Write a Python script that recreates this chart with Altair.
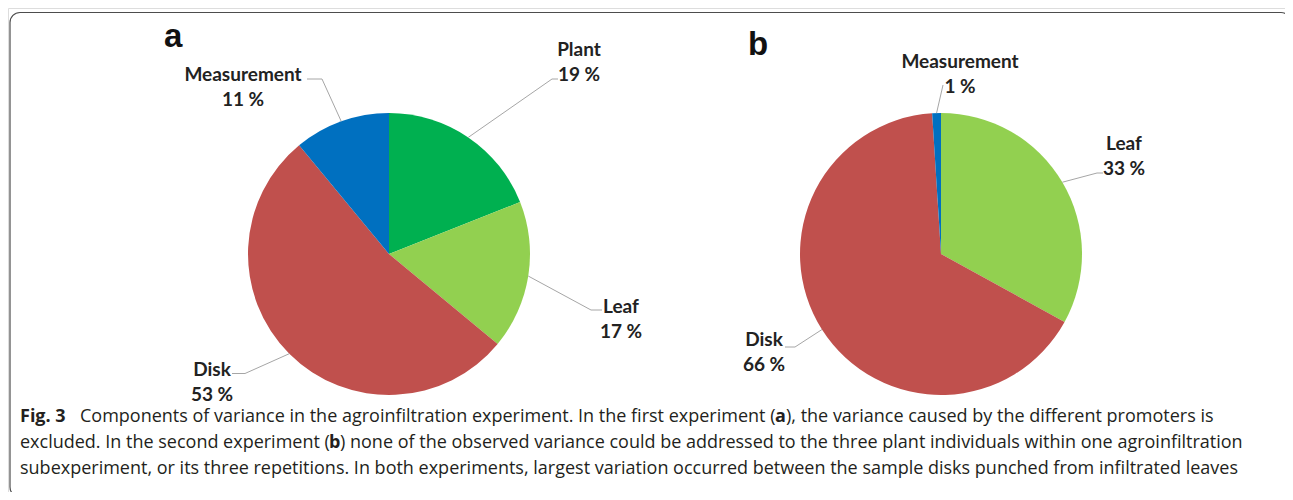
import math
import altair as alt
import pandas as pd

# ---------------- data ----------------
CATEGORIES = ["Plant", "Leaf", "Disk", "Measurement"]
SHARE_A = [19, 17, 53, 11]
SHARE_B = [0, 33, 66, 1]
COLORS = ["#00B050", "#92D050", "#C0504D", "#0070C0"]

CAPTION_BOLD = ["Fig. 3", "a", "b"]
CAPTION_REGULAR = [
    "Components of variance in the agroinfiltration experiment. In the first experiment (",
    "), the variance caused by the different promoters is",
    "excluded. In the second experiment (",
    ") none of the observed variance could be addressed to the three plant individuals within one agroinfiltration",
    "subexperiment, or its three repetitions. In both experiments, largest variation occurred between the sample disks punched from infiltrated leaves",
]

# ---------------- layout (page pixels) ----------------
M = 8  # page margin
W, H = 1277, 484
R = 141
PIE_CENTER = {"a": (389, 254), "b": (941, 254)}
PANEL_LETTER_POS = {"a": (164, 47), "b": (748, 55)}
# label block centre offset from pie centre, attach point offset from label centre, tick length
LABEL_LAYOUT = {
    ("a", "Plant"): (190, -191.5, -21, 16.5, -6),
    ("a", "Leaf"): (232, 65.5, -19, -9.5, -11),
    ("a", "Disk"): (-177, 128, 20, -8.5, 13),
    ("a", "Measurement"): (-146, -166.5, 64, -8.5, 15),
    ("b", "Leaf"): (183, -98, -21, 17, -6),
    ("b", "Disk"): (-177, 98, 21, -5, 10),
    ("b", "Measurement"): (19, -179.5, -17, 10.5, 0),
}
LINE_GAP = 12.5
CAP_SIZE = 18
CAPTION_BOLD_POS = [(20, 417), (775, 417), (329, 443)]
CAPTION_REGULAR_POS = [(80, 417), (786, 417), (20, 443), (340, 443), (20, 469)]

LABEL_FONT = "Lato"
CAPTION_FONT = "Open Sans"

# ---------------- build tables ----------------
pie_rows, label_rows, line_rows = [], [], []
for panel, shares in (("a", SHARE_A), ("b", SHARE_B)):
    total = sum(shares)
    cx, cy = PIE_CENTER[panel]
    cum = 0
    for i, (cat, v) in enumerate(zip(CATEGORIES, shares)):
        if v <= 0:
            continue
        mid = (cum + v / 2) / total * 2 * math.pi
        cum += v
        pie_rows.append({"panel": panel, "category": cat, "value": v, "idx": i})
        ldx, ldy, adx, ady, tick = LABEL_LAYOUT[(panel, cat)]
        lx, ly = cx + ldx, cy + ldy
        label_rows.append({"panel": panel, "category": cat, "name": cat,
                           "pct": f"{v} %", "x": lx - M, "y1": ly - LINE_GAP - M,
                           "y2": ly + LINE_GAP - M})
        ex, ey = cx + R * math.sin(mid), cy - R * math.cos(mid)
        ax, ay = lx + adx, ly + ady
        key = f"{panel}-{cat}"
        pts = [(ex, ey), (ax + tick, ay), (ax, ay)]
        for k, (px, py) in enumerate(pts):
            line_rows.append({"key": key, "pt": k, "x": px - M, "y": py - M})

pie_df = pd.DataFrame(pie_rows)
label_df = pd.DataFrame(label_rows)
line_df = pd.DataFrame(line_rows)

bold_df = pd.DataFrame([{"t": t, "x": p[0] - M, "y": p[1] - M}
                        for t, p in zip(CAPTION_BOLD, CAPTION_BOLD_POS)])
reg_df = pd.DataFrame([{"t": t, "x": p[0] - M, "y": p[1] - M}
                       for t, p in zip(CAPTION_REGULAR, CAPTION_REGULAR_POS)])
letter_df = pd.DataFrame([{"t": k, "x": v[0] - M, "y": v[1] - M}
                          for k, v in PANEL_LETTER_POS.items()])

X = lambda f: alt.X(f, type="quantitative", scale=None, axis=None)
Y = lambda f: alt.Y(f, type="quantitative", scale=None, axis=None)

color_scale = alt.Scale(domain=CATEGORIES, range=COLORS)

layers = []

frame = alt.Chart(pd.DataFrame([{"k": 0}])).mark_rect(
    fill="transparent", stroke="#4d4d4d", strokeWidth=1.2, cornerRadius=10
).encode(x=alt.value(10 - M), x2=alt.value(1291 - M),
         y=alt.value(12.5 - M), y2=alt.value(497 - M))
layers.append(frame)

for panel in ("a", "b"):
    cx, cy = PIE_CENTER[panel]
    arc = alt.Chart(pie_df).transform_filter(
        alt.datum.panel == panel
    ).mark_arc(radius=R, stroke=None).encode(
        theta=alt.Theta("value:Q", stack=True),
        color=alt.Color("category:N", scale=color_scale, legend=None),
        order=alt.Order("idx:Q"),
        x=alt.value(cx - M),
        y=alt.value(cy - M),
    )
    layers.append(arc)

leaders = alt.Chart(line_df).mark_line(color="#a6a6a6", strokeWidth=1).encode(
    x=X("x"), y=Y("y"), detail="key:N", order="pt:Q"
)
layers.append(leaders)

name_txt = alt.Chart(label_df).mark_text(
    font=LABEL_FONT, fontWeight="bold", fontSize=19, color="#222222",
    align="center", baseline="middle"
).encode(x=X("x"), y=Y("y1"), text="name:N")
pct_txt = alt.Chart(label_df).mark_text(
    font=LABEL_FONT, fontWeight="bold", fontSize=19, color="#222222",
    align="center", baseline="middle"
).encode(x=X("x"), y=Y("y2"), text="pct:N")
layers += [name_txt, pct_txt]

letters = alt.Chart(letter_df).mark_text(
    font="Liberation Sans", fontWeight="bold", fontSize=33, color="#111111",
    align="left", baseline="alphabetic"
).encode(x=X("x"), y=Y("y"), text="t:N")
layers.append(letters)

cap_reg = alt.Chart(reg_df).mark_text(
    font=CAPTION_FONT, fontSize=CAP_SIZE, color="#231f20", align="left", baseline="middle"
).encode(x=X("x"), y=Y("y"), text="t:N")
cap_bold = alt.Chart(bold_df).mark_text(
    font=CAPTION_FONT, fontWeight="bold", fontSize=CAP_SIZE, color="#231f20",
    align="left", baseline="middle"
).encode(x=X("x"), y=Y("y"), text="t:N")
layers += [cap_reg, cap_bold]

chart = alt.layer(*layers).properties(
    width=W, height=H, padding=0,
    autosize=alt.AutoSizeParams(type="none"),
).configure_view(stroke=None).configure(background="white")

chart.save("out.html", embed_options={"renderer": "svg", "actions": False})
